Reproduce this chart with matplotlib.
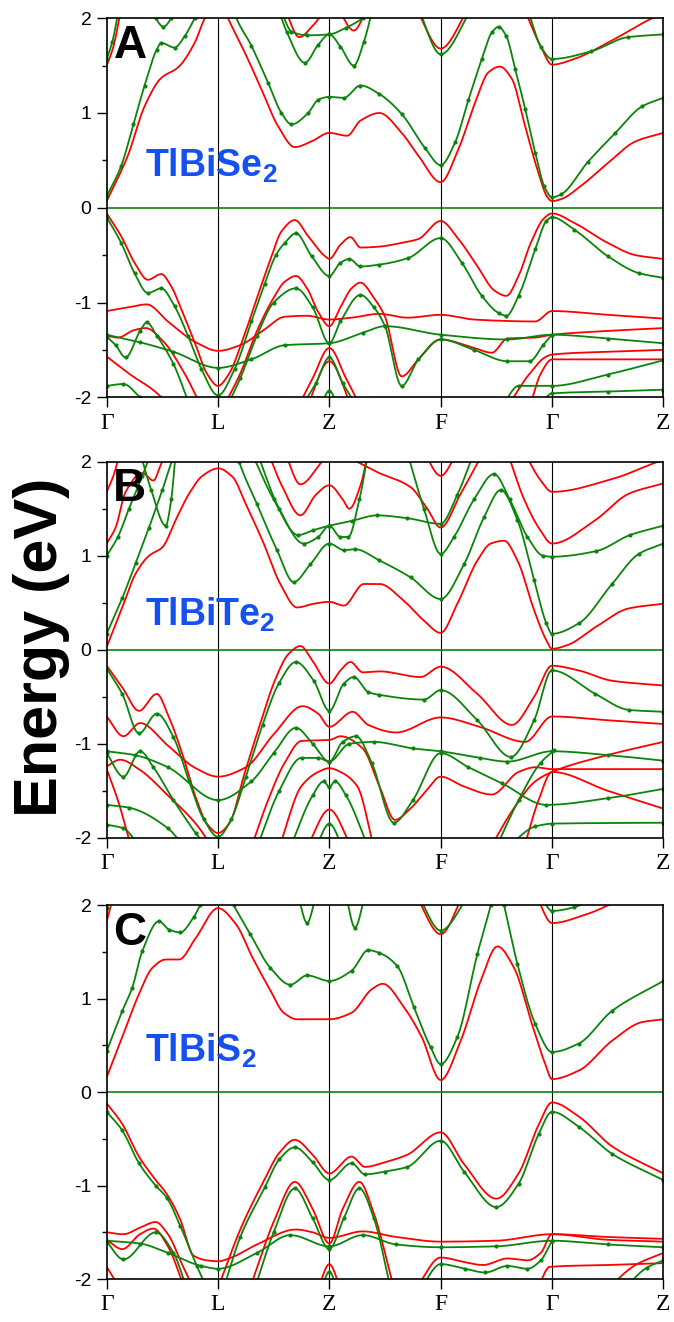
import numpy as np
import matplotlib
matplotlib.use('Agg')
import matplotlib.pyplot as plt

plt.rcParams['font.family'] = ['Liberation Sans', 'DejaVu Sans']
plt.rcParams['axes.unicode_minus'] = False
plt.rcParams['mathtext.fontset'] = 'custom'
plt.rcParams['mathtext.rm'] = 'Liberation Sans'
plt.rcParams['mathtext.bf'] = 'Liberation Sans:bold'

RED = '#ff0000'
GREEN = '#0a840a'
BLUE = '#1550f0'

# path: G-L-Z-F-G-Z, one unit per segment
KLABELS = ['\u0393', 'L', 'Z', 'F', '\u0393', 'Z']
YTICKS = [-2, -1, 0, 1, 2]

###########################################
# TlBiSe2   (k, E) points along each band

A_RED = [
    [(0, 0.07), (0.19, 0.55), (0.34, 1.07), (0.49, 1.37), (0.64, 1.48), (0.79, 1.74), (0.88, 2.0), (1.0, 2.25),
     (1.09, 2.0), (1.24, 1.64), (1.39, 1.25), (1.54, 0.86), (1.69, 0.64), (1.84, 0.70), (2.0, 0.79), (2.16, 0.76),
     (2.28, 0.92), (2.45, 1.0), (2.65, 0.79), (2.8, 0.55), (3.0, 0.27), (3.16, 0.62), (3.31, 1.11), (3.43, 1.43),
     (3.53, 1.49), (3.64, 1.36), (3.75, 0.9), (3.87, 0.40), (3.96, 0.11), (4.0, 0.07), (4.08, 0.09), (4.26, 0.23),
     (4.51, 0.48), (4.75, 0.70), (5.0, 0.79)],
    [(0, 1.5), (0.06, 1.7), (0.13, 2.1)],
    [(1.6, 2.1), (1.73, 1.8), (1.85, 1.92), (1.97, 2.1)],
    [(2.08, 2.1), (2.22, 1.87), (2.34, 2.1)],
    [(2.78, 2.1), (3.0, 1.68), (3.25, 2.1)],
    [(3.75, 2.1), (3.9, 1.7), (4.0, 1.51), (4.2, 1.57), (4.5, 1.74), (4.9, 2.0), (5.0, 2.05)],
    [(0, -0.06), (0.13, -0.3), (0.25, -0.58), (0.37, -0.76), (0.49, -0.70), (0.58, -0.83), (0.67, -1.07),
     (0.8, -1.45), (0.9, -1.75), (1.0, -1.88), (1.1, -1.75), (1.22, -1.4), (1.35, -0.95), (1.47, -0.55),
     (1.57, -0.25), (1.69, -0.13), (1.81, -0.3), (1.96, -0.51), (2.0, -0.54), (2.1, -0.39), (2.19, -0.31),
     (2.28, -0.42), (2.45, -0.41), (2.65, -0.37), (2.8, -0.33), (3.0, -0.14), (3.16, -0.33), (3.31, -0.58),
     (3.49, -0.88), (3.59, -0.93), (3.7, -0.72), (3.81, -0.37), (3.93, -0.11), (4.0, -0.06), (4.2, -0.16),
     (4.5, -0.37), (4.75, -0.5), (5.0, -0.54)],
    [(0, -1.09), (0.2, -1.05), (0.36, -1.02), (0.55, -1.2), (0.8, -1.42), (1.0, -1.51), (1.2, -1.45),
     (1.4, -1.3), (1.6, -1.15), (1.8, -1.14), (2.0, -1.18), (2.2, -1.16), (2.45, -1.12), (2.7, -1.16),
     (3.0, -1.13), (3.3, -1.18), (3.85, -1.2), (4.0, -1.09), (4.5, -1.13), (5.0, -1.17)],
    [(1.05, -2.1), (1.2, -1.75), (1.35, -1.3), (1.5, -0.95), (1.6, -0.78), (1.7, -0.72), (1.8, -0.85),
     (1.9, -1.1), (2.0, -1.25), (2.1, -1.05), (2.2, -0.85), (2.28, -0.79), (2.4, -0.95), (2.5, -1.15),
     (2.65, -1.78), (2.8, -1.6), (3.0, -1.39), (3.3, -1.48), (3.46, -1.53), (3.6, -1.38), (3.85, -1.37),
     (4.0, -1.34), (4.5, -1.3), (5.0, -1.27)],
    [(1.72, -2.1), (1.85, -1.8), (2.0, -1.48), (2.15, -1.8), (2.28, -2.1)],
    [(1.8, -2.1), (2.0, -1.62), (2.2, -2.1)],
    [(0, -1.35), (0.1, -1.37), (0.25, -1.29), (0.35, -1.27), (0.5, -1.4), (0.7, -1.75), (0.85, -2.1)],
    [(0, -1.57), (0.2, -1.75), (0.49, -2.0), (0.55, -2.1)],
    [(3.6, -2.1), (3.8, -1.75), (3.95, -1.57), (4.0, -1.55), (4.5, -1.52), (5.0, -1.5)],
    [(3.8, -2.1), (3.9, -1.75), (4.0, -1.6), (4.5, -1.6), (5.0, -1.6)],
]

A_GREEN = [
    [(0, 0.12), (0.13, 0.44), (0.24, 0.88), (0.34, 1.29), (0.45, 1.67), (0.49, 1.74), (0.61, 1.69), (0.7, 1.81),
     (0.79, 2.0), (0.9, 2.3), (1.0, 2.4), (1.1, 2.3), (1.15, 2.05), (1.3, 1.71), (1.45, 1.32), (1.57, 1.0),
     (1.66, 0.88), (1.81, 1.0), (1.9, 1.14), (2.0, 1.17), (2.13, 1.16), (2.28, 1.29), (2.45, 1.2), (2.65, 0.99),
     (2.86, 0.63), (3.0, 0.45), (3.13, 0.69), (3.25, 1.14), (3.37, 1.57), (3.46, 1.85), (3.52, 1.91),
     (3.59, 1.81), (3.67, 1.46), (3.76, 1.04), (3.85, 0.58), (3.93, 0.23), (4.0, 0.11), (4.08, 0.14),
     (4.32, 0.48), (4.57, 0.79), (4.81, 1.07), (5.0, 1.16)],
    [(0, 1.57), (0.05, 1.75), (0.11, 2.1)],
    [(0.38, 2.15), (0.44, 2.0), (0.51, 1.91), (0.58, 2.0), (0.64, 2.15)],
    [(1.5, 2.25), (1.62, 1.85), (1.78, 1.53), (1.9, 1.72), (2.0, 1.83), (2.1, 1.7), (2.22, 1.5), (2.31, 1.75),
     (2.4, 2.15)],
    [(1.56, 2.1), (1.66, 1.86), (1.8, 1.82), (2.0, 1.83), (2.15, 1.9), (2.3, 2.0), (2.4, 2.1)],
    [(2.8, 2.1), (3.0, 1.62), (3.28, 2.1)],
    [(3.78, 2.1), (3.9, 1.7), (4.0, 1.57), (4.35, 1.65), (4.68, 1.8), (5.0, 1.83)],
    [(0, -0.1), (0.13, -0.37), (0.25, -0.69), (0.37, -0.9), (0.49, -0.85), (0.61, -1.04), (0.73, -1.35),
     (0.85, -1.7), (1.0, -1.98), (1.15, -1.7), (1.3, -1.2), (1.42, -0.8), (1.52, -0.5), (1.6, -0.37),
     (1.7, -0.27), (1.84, -0.51), (2.0, -0.72), (2.1, -0.58), (2.18, -0.54), (2.28, -0.62), (2.45, -0.6),
     (2.71, -0.53), (3.0, -0.32), (3.19, -0.58), (3.37, -0.93), (3.52, -1.11), (3.59, -1.14), (3.7, -0.93),
     (3.85, -0.44), (3.95, -0.14), (4.0, -0.1), (4.2, -0.23), (4.5, -0.51), (4.78, -0.69), (5.0, -0.74)],
    [(0, -1.34), (0.3, -1.42), (0.6, -1.52), (1.0, -1.69), (1.3, -1.6), (1.6, -1.45), (2.0, -1.43),
     (2.3, -1.32), (2.5, -1.25), (3.0, -1.34), (3.6, -1.39), (4.0, -1.34), (4.5, -1.38), (5.0, -1.43)],
    [(1.08, -2.1), (1.2, -1.8), (1.35, -1.35), (1.5, -1.0), (1.7, -0.85), (1.85, -1.05), (2.0, -1.43),
     (2.1, -1.2), (2.28, -0.92), (2.4, -1.05), (2.5, -1.25), (2.65, -1.88), (2.8, -1.6), (3.0, -1.39),
     (3.3, -1.5), (3.6, -1.62), (3.8, -1.62), (3.92, -1.45), (4.0, -1.34)],
    [(1.75, -2.1), (1.88, -1.85), (2.0, -1.58), (2.12, -1.85), (2.25, -2.1)],
    [(1.92, -2.1), (2.0, -1.93), (2.08, -2.1)],
    [(0, -1.36), (0.08, -1.45), (0.17, -1.58), (0.3, -1.3), (0.36, -1.21), (0.45, -1.35), (0.6, -1.65),
     (0.75, -2.1)],
    [(0, -1.88), (0.15, -1.86), (0.3, -2.0), (0.4, -2.1)],
    [(3.55, -2.1), (3.7, -1.88), (4.0, -1.88), (4.5, -1.76), (5.0, -1.61)],
    [(3.88, -2.1), (4.0, -1.96), (4.5, -1.94), (5.0, -1.92)],
]

###########################################
# TlBiTe2

B_RED = [
    [(0, 0.03), (0.14, 0.45), (0.26, 0.81), (0.38, 1.0), (0.5, 1.09), (0.62, 1.38), (0.74, 1.66), (0.86, 1.85),
     (1.0, 1.93), (1.13, 1.84), (1.25, 1.55), (1.4, 1.16), (1.56, 0.7), (1.71, 0.45), (1.86, 0.49), (2.0, 0.51),
     (2.13, 0.47), (2.31, 0.7), (2.45, 0.7), (2.67, 0.52), (2.85, 0.31), (3.0, 0.18), (3.15, 0.49),
     (3.33, 0.95), (3.45, 1.13), (3.57, 1.16), (3.69, 0.95), (3.84, 0.42), (3.95, 0.1), (4.0, 0.01),
     (4.14, 0.05), (4.39, 0.24), (4.69, 0.44), (5.0, 0.49)],
    [(0, 1.13), (0.08, 1.3), (0.17, 1.68), (0.32, 1.88), (0.42, 1.8), (0.48, 1.95), (0.53, 2.1)],
    [(0, 1.68), (0.06, 1.85), (0.12, 2.1)],
    [(1.45, 2.1), (1.58, 1.73), (1.74, 1.43), (1.88, 1.65), (2.0, 1.75), (2.12, 1.6), (2.18, 1.5), (2.28, 1.75),
     (2.35, 2.1)],
    [(1.6, 2.1), (1.74, 1.76), (1.9, 1.95), (1.98, 2.1)],
    [(2.25, 2.0), (2.43, 1.89), (2.73, 1.73), (2.88, 1.5), (3.0, 1.3), (3.18, 1.66), (3.36, 2.05)],
    [(2.85, 2.1), (3.0, 1.85), (3.15, 2.1)],
    [(3.6, 2.1), (3.75, 1.6), (3.88, 1.3), (4.0, 1.13), (4.39, 1.38), (4.69, 1.66), (5.0, 1.77)],
    [(3.75, 2.1), (3.9, 1.8), (4.0, 1.68), (4.55, 1.82), (4.95, 2.0), (5.0, 2.02)],
    [(0, -0.17), (0.14, -0.4), (0.29, -0.65), (0.45, -0.47), (0.56, -0.72), (0.68, -1.11), (0.8, -1.57),
     (0.9, -1.85), (1.0, -1.95), (1.1, -1.85), (1.24, -1.31), (1.37, -0.82), (1.52, -0.3), (1.63, -0.05),
     (1.74, 0.04), (1.85, -0.12), (2.0, -0.36), (2.1, -0.22), (2.19, -0.13), (2.3, -0.24), (2.45, -0.23),
     (2.82, -0.29), (3.0, -0.18), (3.33, -0.47), (3.64, -0.8), (3.84, -0.5), (4.0, -0.17), (4.24, -0.22),
     (4.54, -0.33), (5.0, -0.38)],
    [(0, -0.71), (0.15, -0.92), (0.3, -0.78), (0.55, -1.02), (0.8, -1.26), (1.0, -1.35), (1.25, -1.25),
     (1.5, -0.9), (1.76, -0.6), (1.9, -0.68), (2.0, -0.82), (2.21, -0.66), (2.35, -0.8), (2.6, -0.88),
     (3.0, -0.72), (3.35, -0.82), (3.76, -0.98), (4.0, -0.71), (4.5, -0.75), (5.0, -0.79)],
    [(1.3, -2.1), (1.45, -1.6), (1.6, -1.2), (1.75, -0.97), (2.0, -0.96), (2.1, -0.92), (2.3, -1.05),
     (2.45, -1.45), (2.59, -1.81), (2.72, -1.7), (2.87, -1.5), (3.0, -1.35), (3.2, -1.45), (3.46, -1.54),
     (3.7, -1.3), (3.85, -1.25), (4.0, -1.27), (4.5, -1.27), (5.0, -1.27)],
    [(3.45, -2.1), (3.65, -1.7), (3.85, -1.4), (4.0, -1.3), (4.5, -1.12), (5.0, -0.98)],
    [(3.75, -2.1), (3.88, -1.6), (4.0, -1.3), (4.5, -1.5), (5.0, -1.69)],
    [(1.55, -2.1), (1.75, -1.45), (1.9, -1.3), (2.0, -1.26), (2.1, -1.3), (2.25, -1.45), (2.4, -2.1)],
    [(1.8, -2.1), (2.0, -1.7), (2.2, -2.1)],
    [(0, -1.24), (0.12, -1.17), (0.3, -1.28), (0.55, -1.55), (0.8, -1.85), (0.95, -2.1)],
    [(0, -1.27), (0.1, -1.6), (0.22, -2.1)],
]

B_GREEN = [
    [(0, 0.17), (0.14, 0.55), (0.26, 0.92), (0.38, 1.3), (0.5, 1.7), (0.6, 2.05), (0.75, 2.4), (1.0, 2.6),
     (1.1, 2.4), (1.19, 2.0), (1.35, 1.55), (1.53, 1.06), (1.68, 0.72), (1.83, 0.91), (2.0, 1.13),
     (2.13, 1.06), (2.23, 1.07), (2.45, 0.95), (2.73, 0.77), (3.0, 0.54), (3.21, 0.91), (3.39, 1.41),
     (3.54, 1.7), (3.69, 1.38), (3.84, 0.74), (3.95, 0.28), (4.0, 0.17), (4.24, 0.28), (4.54, 0.7),
     (4.78, 1.02), (5.0, 1.13)],
    [(0, 1.0), (0.1, 1.2), (0.2, 1.5), (0.32, 1.85), (0.4, 2.1)],
    [(0.3, 2.1), (0.4, 1.7), (0.53, 1.32), (0.58, 1.6), (0.62, 2.1)],
    [(1.3, 2.1), (1.5, 1.6), (1.72, 1.22), (1.85, 1.27), (2.0, 1.32), (2.2, 1.37), (2.43, 1.43), (2.7, 1.4),
     (3.0, 1.34), (3.15, 1.65), (3.3, 2.1)],
    [(1.35, 2.1), (1.55, 1.5), (1.77, 1.13), (1.9, 1.2), (2.0, 1.32), (2.1, 1.2), (2.17, 1.2), (2.27, 1.6),
     (2.35, 2.1)],
    [(2.7, 2.1), (2.85, 1.5), (3.0, 1.02), (3.12, 1.2), (3.3, 1.6), (3.48, 1.87), (3.62, 1.6), (3.78, 1.2),
     (3.92, 1.0), (4.0, 0.99), (4.4, 1.05), (4.7, 1.22), (5.0, 1.32)],
    [(0, -0.2), (0.14, -0.47), (0.29, -0.89), (0.45, -0.68), (0.6, -0.93), (0.74, -1.4), (0.87, -1.8),
     (1.0, -1.99), (1.12, -1.8), (1.25, -1.35), (1.4, -0.8), (1.55, -0.35), (1.7, -0.13), (1.86, -0.33),
     (2.0, -0.65), (2.13, -0.36), (2.22, -0.29), (2.35, -0.45), (2.45, -0.48), (2.85, -0.53), (3.0, -0.43),
     (3.33, -0.75), (3.63, -1.14), (3.84, -0.75), (4.0, -0.22), (4.39, -0.47), (4.69, -0.64), (5.0, -0.66)],
    [(0, -1.08), (0.25, -1.12), (0.55, -1.25), (1.0, -1.6), (1.3, -1.4), (1.5, -1.1), (1.7, -0.83),
     (1.85, -1.0), (2.0, -1.19), (2.18, -1.0), (2.4, -0.98), (2.75, -1.05), (3.0, -1.08), (3.35, -1.15),
     (3.6, -1.19), (4.0, -1.08), (4.5, -1.12), (5.0, -1.18)],
    [(1.35, -2.1), (1.55, -1.5), (1.75, -1.15), (1.9, -1.15), (2.0, -1.19), (2.12, -0.98), (2.24, -0.92),
     (2.38, -1.2), (2.58, -1.84), (2.75, -1.6), (3.0, -1.1), (3.25, -1.25), (3.55, -1.42), (3.95, -1.65),
     (4.5, -1.58), (5.0, -1.48)],
    [(3.5, -2.1), (3.7, -1.6), (3.9, -1.2), (4.02, -1.07)],
    [(3.6, -2.1), (3.85, -1.88), (4.0, -1.85), (5.0, -1.84)],
    [(1.65, -2.1), (1.85, -1.55), (1.95, -1.4), (2.0, -1.46), (2.05, -1.4), (2.15, -1.55), (2.35, -2.1)],
    [(1.88, -2.1), (2.0, -1.85), (2.12, -2.1)],
    [(0, -1.1), (0.15, -1.35), (0.3, -1.08), (0.42, -1.25), (0.6, -1.6), (0.8, -1.95), (0.9, -2.1)],
    [(0, -1.65), (0.2, -1.68), (0.55, -1.9), (0.7, -2.1)],
    [(0, -1.86), (0.15, -1.9), (0.3, -2.1)],
]

###########################################
# TlBiS2

C_RED = [
    [(0, 0.16), (0.14, 0.59), (0.29, 1.05), (0.41, 1.33), (0.53, 1.42), (0.65, 1.42), (0.8, 1.65), (1.0, 1.97),
     (1.16, 1.8), (1.31, 1.44), (1.47, 1.09), (1.59, 0.85), (1.71, 0.78), (2.0, 0.78), (2.2, 0.85),
     (2.38, 1.1), (2.48, 1.16), (2.67, 0.91), (2.83, 0.59), (3.0, 0.13), (3.18, 0.55), (3.36, 1.19),
     (3.51, 1.56), (3.66, 1.33), (3.82, 0.73), (3.94, 0.3), (4.0, 0.14), (4.24, 0.23), (4.54, 0.55),
     (4.81, 0.75), (5.0, 0.78)],
    [(0, 1.83), (0.06, 2.1)],
    [(2.78, 2.1), (3.0, 1.69), (3.2, 2.1)],
    [(3.86, 2.1), (4.0, 1.81), (4.3, 1.9), (4.6, 2.05)],
    [(0, -0.12), (0.14, -0.34), (0.29, -0.69), (0.44, -0.94), (0.54, -1.09), (0.66, -1.36), (0.78, -1.75),
     (0.9, -1.8), (1.0, -1.81), (1.12, -1.77), (1.35, -1.63), (1.7, -1.47), (1.85, -1.5), (2.0, -1.56),
     (2.3, -1.49), (2.6, -1.55), (3.0, -1.6), (3.5, -1.59), (4.0, -1.52), (4.5, -1.55), (5.0, -1.57)],
    [(1.03, -2.0), (1.2, -1.47), (1.42, -0.93), (1.55, -0.65), (1.69, -0.51), (1.85, -0.67), (2.0, -0.87),
     (2.2, -0.69), (2.32, -0.8), (2.5, -0.75), (2.7, -0.67), (3.0, -0.43), (3.21, -0.77), (3.5, -1.14),
     (3.7, -0.87), (3.88, -0.35), (4.0, -0.11), (4.24, -0.26), (4.54, -0.58), (5.0, -0.87)],
    [(0, -1.5), (0.15, -1.52), (0.3, -1.45), (0.44, -1.39), (0.55, -1.52), (0.68, -1.85), (0.78, -2.1)],
    [(0, -1.58), (0.14, -1.68), (0.3, -1.52), (0.42, -1.46), (0.55, -1.65), (0.7, -2.1)],
    [(0, -1.87), (0.12, -2.1)],
    [(1.3, -2.05), (1.51, -1.36), (1.69, -0.96), (1.85, -1.25), (2.0, -1.62), (2.12, -1.25), (2.27, -0.96),
     (2.4, -1.3), (2.58, -2.1)],
    [(1.9, -2.1), (2.0, -1.84), (2.1, -2.1)],
    [(2.78, -2.1), (3.0, -1.77), (3.22, -1.82), (3.38, -1.85), (3.6, -1.78), (3.78, -1.8), (3.9, -1.72),
     (4.0, -1.52), (4.5, -1.58), (5.0, -1.6)],
    [(3.87, -2.1), (3.98, -1.87), (4.5, -1.85), (5.0, -1.83)],
    [(4.5, -2.1), (4.75, -1.85), (5.0, -1.72)],
]

C_GREEN = [
    [(0, 0.44), (0.14, 0.87), (0.23, 1.12), (0.32, 1.51), (0.47, 1.83), (0.56, 1.74), (0.66, 1.71), (0.78, 1.87),
     (0.84, 2.0), (1.0, 2.3), (1.14, 2.0), (1.29, 1.69), (1.47, 1.33), (1.65, 1.15), (1.8, 1.25), (2.0, 1.19),
     (2.2, 1.3), (2.35, 1.52), (2.45, 1.49), (2.61, 1.35), (2.76, 0.91), (2.91, 0.48), (3.0, 0.3),
     (3.15, 0.59), (3.33, 1.48), (3.45, 2.0), (3.51, 2.3), (3.57, 2.0), (3.69, 1.37), (3.85, 0.73),
     (4.0, 0.43), (4.24, 0.52), (4.54, 0.87), (5.0, 1.19)],
    [(0, 1.97), (0.04, 2.1)],
    [(1.72, 2.1), (1.8, 1.81), (1.88, 2.1)],
    [(2.15, 2.1), (2.23, 1.76), (2.32, 2.1)],
    [(2.8, 2.1), (3.0, 1.73), (3.25, 2.1)],
    [(3.9, 2.1), (4.0, 1.94), (4.2, 1.98), (4.4, 2.1)],
    [(0, -0.21), (0.14, -0.41), (0.29, -0.76), (0.44, -1.0), (0.54, -1.13), (0.66, -1.43), (0.81, -1.86),
     (0.9, -2.1)],
    [(1.05, -2.1), (1.2, -1.55), (1.42, -1.02), (1.55, -0.72), (1.69, -0.59), (1.85, -0.75), (2.0, -0.94),
     (2.2, -0.76), (2.32, -0.88), (2.5, -0.85), (2.7, -0.8), (3.0, -0.52), (3.21, -0.85), (3.5, -1.23),
     (3.7, -0.98), (3.88, -0.45), (4.0, -0.21), (4.24, -0.37), (4.54, -0.66), (5.0, -0.94)],
    [(0, -1.59), (0.3, -1.62), (0.55, -1.72), (0.85, -1.86), (1.0, -1.89), (1.35, -1.72), (1.65, -1.53),
     (2.0, -1.65), (2.3, -1.53), (2.6, -1.63), (3.0, -1.66), (3.5, -1.65), (4.0, -1.59), (4.5, -1.63),
     (5.0, -1.66)],
    [(0, -1.6), (0.15, -1.79), (0.44, -1.5), (0.6, -1.72), (0.72, -2.1)],
    [(1.33, -2.1), (1.5, -1.5), (1.69, -1.03), (1.85, -1.35), (2.0, -1.68), (2.13, -1.35), (2.27, -1.03),
     (2.4, -1.35), (2.55, -2.1)],
    [(1.93, -2.1), (2.0, -1.92), (2.07, -2.1)],
    [(2.82, -2.1), (3.0, -1.84), (3.22, -1.89), (3.4, -1.93), (3.6, -1.86), (3.78, -1.89), (3.9, -1.8),
     (4.0, -1.59)],
    [(4.65, -2.1), (4.85, -1.88), (5.0, -1.8)],
]

PANELS = [
    ('A', 'TlBiSe$_\\mathbf{2}$', A_RED, A_GREEN, 0.33),
    ('B', 'TlBiTe$_\\mathbf{2}$', B_RED, B_GREEN, 0.26),
    ('C', 'TlBiS$_\\mathbf{2}$', C_RED, C_GREEN, 0.33),
]


def pchip(x, y, xn):
    # monotone cubic through the band points
    x = np.asarray(x, float)
    y = np.asarray(y, float)
    h = np.diff(x)
    d = np.diff(y) / h
    n = len(x)
    m = np.zeros(n)
    if n == 2:
        m[:] = d[0]
    else:
        for k in range(1, n - 1):
            if d[k - 1] * d[k] > 0:
                w1 = 2 * h[k] + h[k - 1]
                w2 = h[k] + 2 * h[k - 1]
                m[k] = (w1 + w2) / (w1 / d[k - 1] + w2 / d[k])
        m[0] = d[0]
        m[-1] = d[-1]
    i = np.clip(np.searchsorted(x, xn) - 1, 0, n - 2)
    t = (xn - x[i]) / h[i]
    h00 = 2 * t**3 - 3 * t**2 + 1
    h10 = t**3 - 2 * t**2 + t
    h01 = -2 * t**3 + 3 * t**2
    h11 = t**3 - t**2
    return h00 * y[i] + h10 * h[i] * m[i] + h01 * y[i + 1] + h11 * h[i] * m[i + 1]


def draw_band(ax, pts, color, dots):
    k = [p[0] for p in pts]
    e = [p[1] for p in pts]
    kk = np.linspace(k[0], k[-1], max(20, int((k[-1] - k[0]) * 120)))
    ax.plot(kk, pchip(k, e, kk), color=color, linewidth=1.3, solid_capstyle='round')
    if dots:
        ax.plot(k, e, linestyle='none', marker='o', markersize=2.0, color=color)


fig = plt.figure(figsize=(6.74, 13.22), dpi=100)

boxes = [(0.6995, 0.2867), (0.3663, 0.2844), (0.0325, 0.2827)]

for (letter, name, reds, greens, ylab), (b, hgt) in zip(PANELS, boxes):
    ax = fig.add_axes([0.1583, b, 0.8258, hgt])
    for x in range(1, 5):
        ax.axvline(x, color='black', linewidth=0.8, zorder=1)
    ax.axhline(0, color=GREEN, linewidth=1.2, zorder=1)
    for band in reds:
        draw_band(ax, band, RED, False)
    for band in greens:
        draw_band(ax, band, GREEN, True)

    ax.set_xlim(0, 5)
    ax.set_ylim(-2, 2)
    ax.set_xticks(range(6))
    ax.set_xticklabels(KLABELS, fontfamily='Liberation Serif', fontsize=17)
    ax.set_yticks(YTICKS)
    ax.set_yticklabels([str(v) for v in YTICKS], fontsize=14)
    ax.set_yticks(np.arange(-1.5, 2.0, 1.0), minor=True)
    ax.tick_params(axis='both', which='major', direction='out', length=7, width=1.0, pad=4)
    ax.tick_params(axis='y', which='minor', direction='out', length=3.5, width=1.0)
    for sp in ax.spines.values():
        sp.set_linewidth(1.2)

    ax.text(0.012, 0.985, letter, transform=ax.transAxes, ha='left', va='top',
            fontsize=33, fontweight='bold', color='black', zorder=5)
    ax.text(0.34, ylab, name, ha='left', va='baseline', fontsize=27,
            fontweight='bold', color=BLUE, zorder=5)

fig.text(0.062, 0.51, 'Energy (eV)', rotation=90, ha='center', va='center',
         fontsize=44, fontweight='bold')

plt.savefig('out.png', dpi=100)
